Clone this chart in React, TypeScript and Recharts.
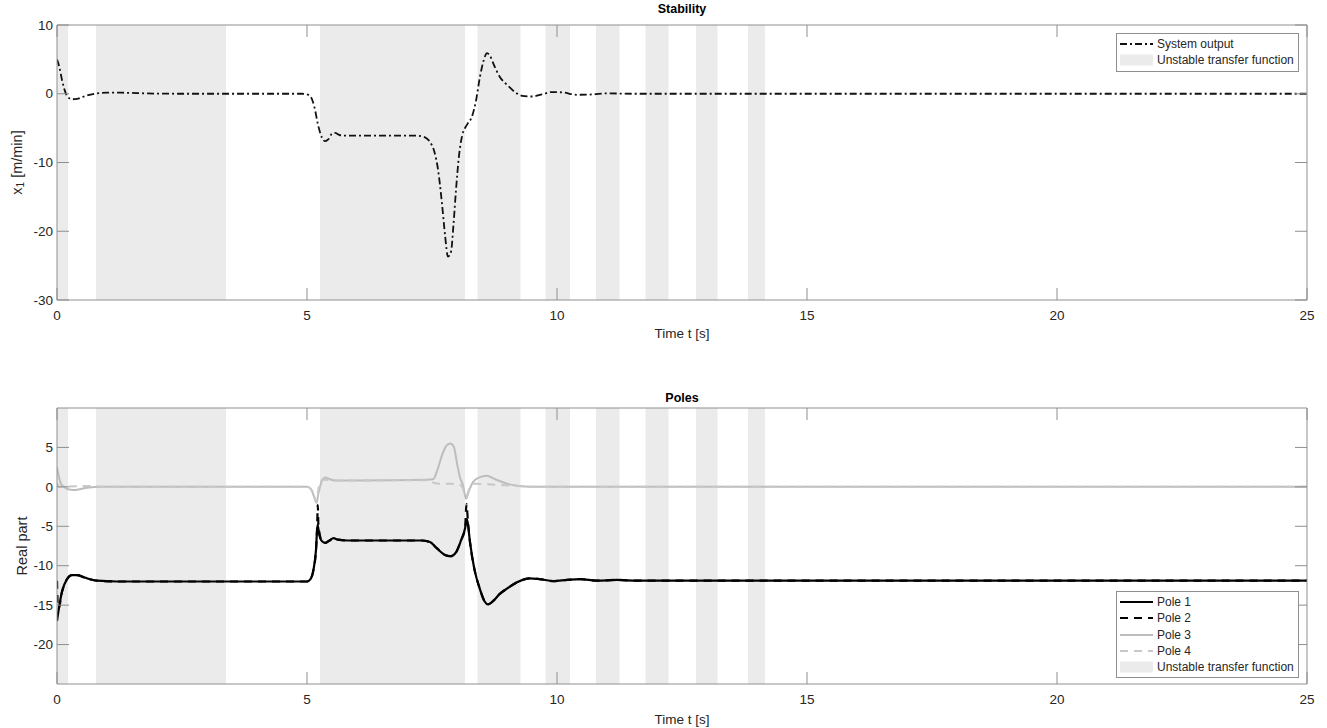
import React from "react";
import {
  LineChart,
  Line,
  XAxis,
  YAxis,
  ReferenceArea,
  Legend,
} from "recharts";

// ---- data ----
const timeTicks = [0, 5, 10, 15, 20, 25];
const outputTicks = [-30, -20, -10, 0, 10];
const poleTicks = [-20, -15, -10, -5, 0, 5];

// spans where the transfer function is unstable [start, end] in seconds
const unstableSpans: [number, number][] = [
  [0, 0.22],
  [0.78, 3.38],
  [5.26, 8.16],
  [8.41, 9.27],
  [9.77, 10.26],
  [10.78, 11.25],
  [11.77, 12.23],
  [12.78, 13.21],
  [13.82, 14.16],
];

// [t, x1]
const systemOutput: [number, number][] = [
  [0, 5], [0.05, 3.8], [0.1, 2], [0.15, 0.6], [0.2, -0.3], [0.3, -0.8],
  [0.4, -0.75], [0.5, -0.5], [0.6, -0.25], [0.8, 0.05], [1.0, 0.15],
  [1.3, 0.15], [1.8, 0.05], [2.5, 0], [4.9, 0], [5.0, -0.1], [5.08, -0.5],
  [5.15, -2], [5.22, -4.5], [5.3, -6.4], [5.36, -6.9], [5.43, -6.6],
  [5.5, -5.8], [5.56, -5.7], [5.65, -6.0], [5.8, -6.1], [6.5, -6.1],
  [7.2, -6.1], [7.35, -6.3], [7.45, -6.9], [7.55, -8.5], [7.62, -11],
  [7.7, -16], [7.76, -20.5], [7.82, -23.7], [7.88, -23], [7.93, -19],
  [7.98, -14], [8.04, -9], [8.1, -6.2], [8.2, -4.5], [8.3, -3.3],
  [8.38, -1], [8.46, 2.5], [8.54, 5], [8.6, 5.9], [8.66, 5.5], [8.75, 4],
  [8.86, 2.4], [9.0, 1.3], [9.15, 0.3], [9.3, -0.3], [9.5, -0.4],
  [9.7, -0.1], [9.9, 0.25], [10.1, 0.2], [10.4, -0.15], [10.7, -0.1],
  [11.0, 0.05], [11.5, 0], [25, 0],
];

// [t, real part]
const pole1: [number, number][] = [
  [0, -17], [0.04, -15.3], [0.1, -13.3], [0.2, -11.7], [0.3, -11.2],
  [0.4, -11.2], [0.55, -11.5], [0.8, -11.9], [1.2, -12], [5.0, -12],
  [5.07, -11.7], [5.13, -10.5], [5.18, -8], [5.21, -4.8], [5.25, -6.2],
  [5.3, -6.9], [5.37, -7.1], [5.45, -6.8], [5.53, -6.5], [5.62, -6.7],
  [5.8, -6.8], [7.3, -6.8], [7.46, -7], [7.6, -7.8], [7.75, -8.6],
  [7.87, -8.8], [7.98, -8.3], [8.08, -6.8], [8.16, -5.3], [8.2, -4.1],
  [8.26, -7], [8.35, -10.5], [8.46, -13], [8.55, -14.5], [8.62, -14.9],
  [8.72, -14.5], [8.85, -13.6], [9.0, -12.9], [9.2, -12.1], [9.45, -11.6],
  [9.65, -11.7], [9.93, -11.95], [10.2, -11.8], [10.46, -11.7],
  [10.8, -11.9], [11.2, -11.8], [11.6, -11.9], [25, -11.9],
];

const pole2: [number, number][] = [
  [0, -11.9], [0.02, -15.4], [0.04, -15.3], [0.1, -13.3], [0.2, -11.7],
  [0.3, -11.2], [0.4, -11.2], [0.55, -11.5], [0.8, -11.9], [1.2, -12],
  [5.0, -12], [5.07, -11.7], [5.13, -10.5], [5.18, -8], [5.205, -4.6],
  [5.215, -2.3], [5.23, -5], [5.3, -6.9], [5.37, -7.1], [5.45, -6.8],
  [5.53, -6.5], [5.62, -6.7], [5.8, -6.8], [7.3, -6.8], [7.46, -7],
  [7.6, -7.8], [7.75, -8.6], [7.87, -8.8], [7.98, -8.3], [8.08, -6.8],
  [8.16, -5.3], [8.19, -2.2], [8.22, -4.5], [8.26, -7], [8.35, -10.5],
  [8.46, -13], [8.55, -14.5], [8.62, -14.9], [8.72, -14.5], [8.85, -13.6],
  [9.0, -12.9], [9.2, -12.1], [9.45, -11.6], [9.65, -11.7], [9.93, -11.95],
  [10.2, -11.8], [10.46, -11.7], [10.8, -11.9], [11.2, -11.8],
  [11.6, -11.9], [25, -11.9],
];

const pole3: [number, number][] = [
  [0, 2.5], [0.03, 1.5], [0.08, 0.4], [0.14, 0], [0.22, -0.3],
  [0.33, -0.4], [0.45, -0.3], [0.6, -0.1], [0.9, 0], [5.0, 0],
  [5.08, -0.3], [5.14, -1.2], [5.19, -2], [5.23, -0.8], [5.3, 0.8],
  [5.37, 1.2], [5.45, 1.0], [5.55, 0.8], [6.0, 0.8], [7.4, 0.9],
  [7.53, 1.0], [7.6, 2], [7.7, 4], [7.8, 5.3], [7.87, 5.5], [7.94, 5.0],
  [8.0, 3], [8.06, 1.2], [8.12, 0.2], [8.18, -1.5], [8.24, -0.5],
  [8.32, 0.6], [8.45, 1.2], [8.6, 1.4], [8.75, 1.0], [9.0, 0.4],
  [9.25, 0.1], [9.46, 0], [25, 0],
];

const pole4: [number, number][] = [
  [0, 0.5], [0.05, 0], [0.2, 0.05], [0.5, 0.1], [0.7, 0.1], [1.0, 0],
  [5.0, 0], [5.1, -0.5], [5.19, -2], [5.25, 0.5], [5.32, 0.9], [5.6, 0.8],
  [7.4, 0.85], [7.55, 0.5], [7.7, 0.4], [8.0, 0.4], [8.1, 0],
  [8.18, -1.2], [8.25, -0.2], [8.35, 0.4], [8.7, 0.3], [9.2, 0.1],
  [9.6, 0], [25, 0],
];

// ---- styling ----
const AXIS = "#8f8f8f";
const TEXT = "#262626";
const SHADE = "#ebebeb";
const FONT = "'Liberation Sans', Arial, Helvetica, sans-serif";
const TICK_LEN = 12;

const toPoints = (pairs: [number, number][]) => pairs.map(([t, v]) => ({ t, v }));

function BottomTick({ x, y, payload }: any) {
  return (
    <g>
      <line x1={x} x2={x} y1={y} y2={y - TICK_LEN} stroke={AXIS} />
      <text x={x} y={y + 20} textAnchor="middle" fontSize={13.5} fill={TEXT} fontFamily={FONT}>
        {payload.value}
      </text>
    </g>
  );
}

function TopTick({ x, y }: any) {
  return <line x1={x} x2={x} y1={y} y2={y + TICK_LEN} stroke={AXIS} />;
}

function LeftTick({ x, y, payload }: any) {
  return (
    <g>
      <line x1={x} x2={x + TICK_LEN} y1={y} y2={y} stroke={AXIS} />
      <text x={x - 4} y={y + 4.7} textAnchor="end" fontSize={13.5} fill={TEXT} fontFamily={FONT}>
        {payload.value}
      </text>
    </g>
  );
}

function RightTick({ x, y }: any) {
  return <line x1={x} x2={x - TICK_LEN} y1={y} y2={y} stroke={AXIS} />;
}

const xTitle = (text: string, gap: number) => ({ viewBox }: any) => (
  <text
    x={viewBox.x + viewBox.width / 2}
    y={viewBox.y + gap}
    textAnchor="middle"
    fontSize={13.5}
    fill={TEXT}
    fontFamily={FONT}
  >
    {text}
  </text>
);

const plotTitle = (text: string, gap: number) => ({ viewBox }: any) => (
  <text
    x={viewBox.x + viewBox.width / 2}
    y={viewBox.y - gap}
    textAnchor="middle"
    fontSize={12.5}
    fontWeight="bold"
    fill="#000"
    fontFamily={FONT}
  >
    {text}
  </text>
);

const yTitle = (gap: number, children: React.ReactNode) => ({ viewBox }: any) => {
  const cx = viewBox.x - gap;
  const cy = viewBox.y + viewBox.height / 2;
  return (
    <text
      x={cx}
      y={cy}
      transform={`rotate(-90 ${cx} ${cy})`}
      textAnchor="middle"
      dominantBaseline="central"
      fontSize={14.5}
      fill={TEXT}
      fontFamily={FONT}
    >
      {children}
    </text>
  );
};

interface LegendItem {
  label: string;
  kind: "line" | "patch";
  color?: string;
  width?: number;
  dash?: string;
}

const stabilityLegend: LegendItem[] = [
  { label: "System output", kind: "line", color: "#111", width: 1.8, dash: "7 3 2 3" },
  { label: "Unstable transfer function", kind: "patch" },
];

const polesLegend: LegendItem[] = [
  { label: "Pole 1", kind: "line", color: "#000", width: 2.2 },
  { label: "Pole 2", kind: "line", color: "#000", width: 2.2, dash: "8 6" },
  { label: "Pole 3", kind: "line", color: "#bdbdbd", width: 2 },
  { label: "Pole 4", kind: "line", color: "#c8c8c8", width: 2, dash: "8 6" },
  { label: "Unstable transfer function", kind: "patch" },
];

function LegendBox({ items }: { items: LegendItem[] }) {
  return (
    <div
      style={{
        border: `1px solid ${AXIS}`,
        background: "#fff",
        padding: "2px 0 2px 0",
        fontFamily: FONT,
        fontSize: 12,
        color: TEXT,
        boxSizing: "border-box",
      }}
    >
      {items.map((it) => (
        <div key={it.label} style={{ display: "flex", alignItems: "center", height: 16.25 }}>
          <svg width={38} height={12} style={{ marginLeft: 2, flex: "none" }}>
            {it.kind === "patch" ? (
              <rect x={1} y={0.5} width={33} height={11} fill={SHADE} />
            ) : (
              <line
                x1={1}
                x2={34}
                y1={6}
                y2={6}
                stroke={it.color}
                strokeWidth={it.width}
                strokeDasharray={it.dash}
              />
            )}
          </svg>
          <span style={{ whiteSpace: "nowrap" }}>{it.label}</span>
        </div>
      ))}
    </div>
  );
}

const W = 1327;
const TOP_H = 345;
const BOTTOM_H = 383;

export default function App() {
  const shading = unstableSpans.map(([a, b]) => (
    <ReferenceArea
      key={`u-${a}`}
      x1={a}
      x2={b}
      xAxisId="b"
      yAxisId="l"
      fill={SHADE}
      fillOpacity={1}
      stroke="none"
    />
  ));

  // axes are 1px thick so Recharts still renders them; margins below absorb that pixel
  const frame = (ticks: number[], domain: [number, number], yLabel: any, title: any, xGap: number) => [
    <XAxis
      key="xb"
      xAxisId="b"
      type="number"
      dataKey="t"
      domain={[0, 25]}
      ticks={timeTicks}
      interval={0}
      allowDataOverflow
      height={1}
      tickSize={0}
      tickMargin={0}
      tickLine={false}
      axisLine={{ stroke: AXIS }}
      tick={<BottomTick />}
      label={{ content: xTitle("Time t [s]", xGap) }}
    />,
    <XAxis
      key="xt"
      xAxisId="t"
      orientation="top"
      type="number"
      dataKey="t"
      domain={[0, 25]}
      ticks={timeTicks}
      interval={0}
      allowDataOverflow
      height={1}
      tickSize={0}
      tickMargin={0}
      tickLine={false}
      axisLine={{ stroke: AXIS }}
      tick={<TopTick />}
      label={{ content: title }}
    />,
    <YAxis
      key="yl"
      yAxisId="l"
      type="number"
      domain={domain}
      ticks={ticks}
      interval={0}
      allowDataOverflow
      width={1}
      tickSize={0}
      tickMargin={0}
      tickLine={false}
      axisLine={{ stroke: AXIS }}
      tick={<LeftTick />}
      label={{ content: yLabel }}
    />,
    <YAxis
      key="yr"
      yAxisId="r"
      orientation="right"
      type="number"
      domain={domain}
      ticks={ticks}
      interval={0}
      allowDataOverflow
      width={1}
      tickSize={0}
      tickMargin={0}
      tickLine={false}
      axisLine={{ stroke: AXIS }}
      tick={<RightTick />}
    />,
  ];

  return (
    <div style={{ position: "absolute", left: 0, top: 0, width: W, height: 728, background: "#fff" }}>
      <div style={{ position: "absolute", left: 0, top: 0 }}>
        <LineChart width={W} height={TOP_H} margin={{ top: 24, right: 19, bottom: 44, left: 56 }}>
          {shading}
          {frame(
            outputTicks,
            [-30, 10],
            yTitle(39, (
              <>
                x<tspan fontSize={10} dy={3}>1</tspan>
                <tspan dy={-3}> [m/min]</tspan>
              </>
            )),
            plotTitle("Stability", 11),
            38
          )}
          <Line
            data={toPoints(systemOutput)}
            xAxisId="b"
            yAxisId="l"
            dataKey="v"
            type="monotone"
            stroke="#111"
            strokeWidth={1.8}
            strokeDasharray="7 3 2 3"
            dot={false}
            activeDot={false}
            isAnimationActive={false}
            name="System output"
          />
          <Legend
            layout="horizontal"
            verticalAlign="middle"
            align="center"
            wrapperStyle={{ left: 1116, top: 33, width: 183, height: "auto" }}
            content={() => <LegendBox items={stabilityLegend} />}
          />
        </LineChart>
      </div>
      <div style={{ position: "absolute", left: 0, top: TOP_H }}>
        <LineChart width={W} height={BOTTOM_H} margin={{ top: 62, right: 19, bottom: 43, left: 56 }}>
          {shading}
          {frame(poleTicks, [-25, 10], yTitle(34, "Real part"), plotTitle("Poles", 5), 40)}
          <Line
            data={toPoints(pole1)}
            xAxisId="b"
            yAxisId="l"
            dataKey="v"
            type="monotone"
            stroke="#000"
            strokeWidth={2.2}
            dot={false}
            activeDot={false}
            isAnimationActive={false}
            name="Pole 1"
          />
          <Line
            data={toPoints(pole2)}
            xAxisId="b"
            yAxisId="l"
            dataKey="v"
            type="monotone"
            stroke="#000"
            strokeWidth={2.2}
            strokeDasharray="8 6"
            dot={false}
            activeDot={false}
            isAnimationActive={false}
            name="Pole 2"
          />
          <Line
            data={toPoints(pole3)}
            xAxisId="b"
            yAxisId="l"
            dataKey="v"
            type="monotone"
            stroke="#bdbdbd"
            strokeWidth={2}
            dot={false}
            activeDot={false}
            isAnimationActive={false}
            name="Pole 3"
          />
          <Line
            data={toPoints(pole4)}
            xAxisId="b"
            yAxisId="l"
            dataKey="v"
            type="monotone"
            stroke="#c8c8c8"
            strokeWidth={2}
            strokeDasharray="8 6"
            dot={false}
            activeDot={false}
            isAnimationActive={false}
            name="Pole 4"
          />
          <Legend
            layout="horizontal"
            verticalAlign="middle"
            align="center"
            wrapperStyle={{ left: 1116, top: 246, width: 183, height: "auto" }}
            content={() => <LegendBox items={polesLegend} />}
          />
        </LineChart>
      </div>
    </div>
  );
}
